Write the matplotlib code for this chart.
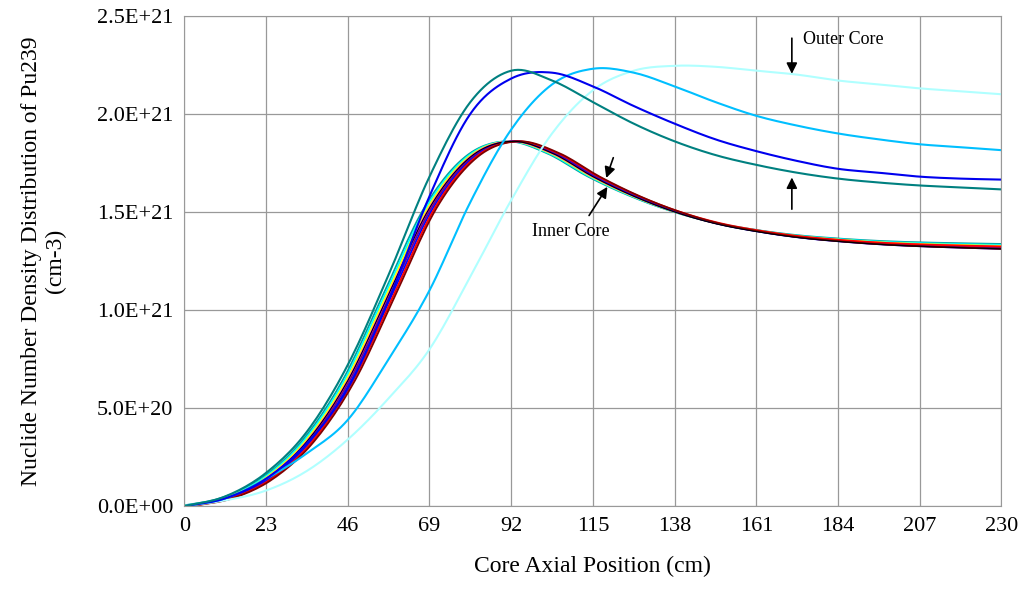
import matplotlib.pyplot as plt
import numpy as np

x_cm = [0, 11.5, 23, 34.5, 46, 57.5, 69, 80.5, 92, 103.5, 115, 126.5, 138,
        149.5, 161, 172.5, 184, 195.5, 207, 218.5, 230]

# Pu239 density, units of 1e21 cm-3
outer_teal = [0, 0.05, 0.17, 0.38, 0.72, 1.18, 1.68, 2.06, 2.22, 2.17, 2.06, 1.95,
              1.86, 1.79, 1.74, 1.70, 1.67, 1.65, 1.635, 1.625, 1.615]
outer_blue = [0, 0.04, 0.14, 0.32, 0.60, 1.05, 1.58, 2.0, 2.18, 2.21, 2.14, 2.04,
              1.95, 1.87, 1.81, 1.76, 1.72, 1.70, 1.68, 1.67, 1.665]
outer_sky = [0, 0.04, 0.14, 0.27, 0.44, 0.75, 1.1, 1.55, 1.92, 2.15, 2.23, 2.21,
             2.14, 2.06, 1.99, 1.94, 1.90, 1.87, 1.845, 1.83, 1.815]
outer_pale = [0, 0.03, 0.08, 0.18, 0.34, 0.55, 0.8, 1.17, 1.56, 1.90, 2.12, 2.22,
              2.245, 2.24, 2.22, 2.20, 2.17, 2.15, 2.13, 2.115, 2.10]
inner_base = [0, 0.04, 0.14, 0.33, 0.64, 1.08, 1.52, 1.78, 1.86, 1.80, 1.68, 1.58,
              1.50, 1.44, 1.40, 1.37, 1.35, 1.335, 1.325, 1.318, 1.312]
inner_tail = [0.025, 0.02, 0.015, 0.01, 0.005, 0.0, 0.012, 0.0]
inner_shift = [-1.5, -1.0, -0.5, 0.0, 0.5, 1.0, 1.5, 2.0]
inner_colors = ["#00A0A0", "#00FFFF", "#FFFF00", "#FF00FF", "#800080", "#0000FF",
                "#FF0000", "#800000"]


def smooth(x, y, n=12):
    # Catmull-Rom curve through the given points (like Excel's smoothed lines)
    x = np.asarray(x, float)
    y = np.asarray(y, float)
    px = np.concatenate([[2 * x[0] - x[1]], x, [2 * x[-1] - x[-2]]])
    py = np.concatenate([[2 * y[0] - y[1]], y, [2 * y[-1] - y[-2]]])
    t = np.linspace(0, 1, n, endpoint=False)
    ox, oy = [], []
    for i in range(1, len(px) - 2):
        for P, out in ((px, ox), (py, oy)):
            p0, p1, p2, p3 = P[i - 1], P[i], P[i + 1], P[i + 2]
            out.extend(0.5 * (2 * p1 + (-p0 + p2) * t
                              + (2 * p0 - 5 * p1 + 4 * p2 - p3) * t ** 2
                              + (-p0 + 3 * p1 - 3 * p2 + p3) * t ** 3))
    ox.append(x[-1])
    oy.append(y[-1])
    return np.array(ox), np.array(oy)


plt.rcParams["font.family"] = "Liberation Serif"
fig, ax = plt.subplots(figsize=(10.24, 6.07), dpi=100)
plt.subplots_adjust(left=0.18, right=0.978, top=0.974, bottom=0.166)

xs = np.array(x_cm)
base = np.array(inner_base)
for sh, tl, col in zip(inner_shift, inner_tail, inner_colors):
    ramp = np.clip((xs - 110) / 120, 0, 1)
    sx, sy = smooth(xs + sh * (1 - ramp), base + tl * ramp)
    ax.plot(sx, sy * 1e21, color=col, lw=1.3)
sx, sy = smooth(xs, base)
ax.plot(sx, sy * 1e21, color="black", lw=0.8)

for vals, col in ((outer_pale, "#B0FFFF"), (outer_sky, "#00BFFF"),
                  (outer_blue, "#0000EE"), (outer_teal, "#008080")):
    sx, sy = smooth(xs, vals)
    ax.plot(sx, sy * 1e21, color=col, lw=1.5)

ax.set_xlim(0, 230)
ax.set_ylim(0, 2.5e21)
ax.set_xticks(np.arange(0, 231, 23))
ax.set_yticks(np.arange(0, 2.51e21, 0.5e21))
ax.set_yticklabels(["0.0E+00", "5.0E+20", "1.0E+21", "1.5E+21", "2.0E+21", "2.5E+21"])
ax.tick_params(labelsize=16, length=0, pad=8)
ax.grid(True, color="#999999", lw=0.9)
for s in ax.spines.values():
    s.set_color("#999999")
ax.set_xlabel("Core Axial Position (cm)", fontsize=17, labelpad=14)
ax.set_ylabel("Nuclide Number Density Distribution of Pu239\n(cm-3)", fontsize=17,
              labelpad=22)

ap = dict(arrowstyle="-|>", color="black", lw=1.2, mutation_scale=16)
ax.annotate("", xy=(171, 2.19e21), xytext=(171, 2.4e21), arrowprops=ap)
ax.annotate("", xy=(171, 1.69e21), xytext=(171, 1.50e21), arrowprops=ap)
ax.text(174, 2.38e21, "Outer Core", fontsize=13, va="center")
ax.annotate("", xy=(118.5, 1.66e21), xytext=(121, 1.79e21), arrowprops=ap)
ax.annotate("", xy=(119.5, 1.64e21), xytext=(113.5, 1.47e21), arrowprops=ap)
ax.text(98, 1.4e21, "Inner Core", fontsize=13, va="center")

plt.savefig("out.png", dpi=100, facecolor="white")
